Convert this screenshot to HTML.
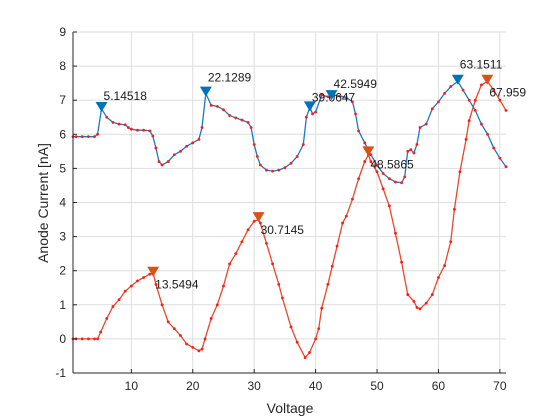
<!DOCTYPE html>
<html><head><meta charset="utf-8"><style>
body{margin:0;background:#fff;}
svg{display:block;font-family:"Liberation Sans",sans-serif;}
</style></head><body>
<svg id="chart" width="560" height="420"></svg>
<script>
const xTicks=[10,20,30,40,50,60,70];
const yTicks=[-1,0,1,2,3,4,5,6,7,8,9];
const blueX=[0.5,1,2,3,4,4.5,5.14,6,7,8,9,9.5,10,11,12,13,13.5,14,14.5,15,16,17,18,19,20,21,21.5,22.13,23,24,25,26,27,28,29,29.5,30,30.5,31,32,33,34,35,36,37,38,38.5,39.06,39.5,40,41,42,42.59,43,44,45,46,46.5,47,48,49,50,51,52,53,54,54.5,55,55.5,56,56.5,57,58,59,60,61,62,63.15,64,65,66,67,68,69,70,71];
const blueY=[5.93,5.93,5.93,5.93,5.93,6.0,6.75,6.5,6.35,6.3,6.28,6.2,6.15,6.12,6.12,6.1,5.95,5.6,5.2,5.1,5.2,5.4,5.5,5.65,5.75,5.85,6.2,7.2,6.85,6.82,6.72,6.55,6.48,6.42,6.35,6.2,5.7,5.35,5.1,4.95,4.92,4.95,5.02,5.15,5.35,5.7,6.5,6.8,6.6,6.65,7.15,7.1,7.15,7.15,7.12,7.08,6.95,6.6,6.1,5.75,5.4,5.1,4.85,4.7,4.6,4.58,4.75,5.5,5.55,5.45,5.7,6.2,6.3,6.75,6.95,7.2,7.4,7.55,7.3,7.0,6.7,6.3,6.0,5.6,5.3,5.05];
const orX=[0.5,1,2,3,4,4.5,5,6,7,8,9,10,11,12,13,13.55,14,15,16,17,18,19,20,21,21.5,22,23,24,25,26,27,28,29,30,30.71,31,32,33,34,34.6,36,37,38.3,39,40,40.5,41,42,42.7,43.5,44.4,45,46,47,48,48.59,49,50,51,52,53,54,55,56,56.5,57,58,59,60,61,62,62.6,63.5,64.5,65,66,67,67.96,69,70,71];
const orY=[0,0,0,0,0,0,0.2,0.6,0.95,1.15,1.4,1.55,1.7,1.8,1.9,1.93,1.6,1.0,0.5,0.3,0.1,-0.15,-0.25,-0.35,-0.3,0.0,0.6,1.0,1.55,2.2,2.5,2.85,3.2,3.45,3.5,3.4,2.8,2.2,1.6,1.2,0.35,-0.1,-0.55,-0.4,0.0,0.3,0.9,1.6,2.13,2.72,3.4,3.6,4.1,4.7,5.2,5.4,5.2,4.9,4.4,3.9,3.1,2.25,1.3,1.1,0.92,0.88,1.05,1.3,1.8,2.15,2.85,3.8,4.9,5.85,6.4,7.0,7.45,7.55,7.3,7.0,6.7];
const bluePeakX=[5.14518,22.1289,39.0647,42.5949,63.1511];
const bluePeakY=[6.8,7.25,6.82,7.15,7.6];
const bluePeakLbl=["5.14518","22.1289","39.0647","42.5949","63.1511"];
const orPeakX=[13.5494,30.7145,48.5865,67.959];
const orPeakY=[1.97,3.57,5.5,7.6];
const orPeakLbl=["13.5494","30.7145","48.5865","67.959"];

const L=73,R=506,T=32,B=373,XMIN=0.5,XMAX=71,YMIN=-1,YMAX=9;
const sx=v=>L+(v-XMIN)/(XMAX-XMIN)*(R-L);
const sy=v=>B-(v-YMIN)/(YMAX-YMIN)*(B-T);
const svg=document.getElementById('chart');
const NS='http://www.w3.org/2000/svg';
function mk(tag,attrs,parent){const e=document.createElementNS(NS,tag);for(const k in attrs)e.setAttribute(k,attrs[k]);(parent||svg).appendChild(e);return e;}

const grid=mk('g',{});


xTicks.forEach(t=>{mk('line',{x1:sx(t),x2:sx(t),y1:T,y2:B,stroke:'#dedede','stroke-width':1},grid);});
yTicks.forEach(t=>{mk('line',{x1:L,x2:R,y1:sy(t),y2:sy(t),stroke:'#dedede','stroke-width':1},grid);});

function series(xs,ys,color,name){
  const g=mk('g',{});
  
  
  const d=xs.map((x,i)=>(i?'L':'M')+sx(x).toFixed(1)+','+sy(ys[i]).toFixed(1)).join('');
  mk('path',{d:d,fill:'none',stroke:color,'stroke-width':1.3},g);
  xs.forEach((x,i)=>{const c=mk('circle',{cx:sx(x),cy:sy(ys[i]),r:1.4,fill:'#ff1a1a'},g);
    
    });
}
series(orX,orY,'#e8482a','orange-series');
series(blueX,blueY,'#1f77c4','blue-series');

function peaks(xs,ys,lbls,color,name,dx,dy){
  xs.forEach((x,i)=>{
    const px=sx(x),py=sy(ys[i]);
    const m=mk('path',{d:`M${px-6},${py-5}L${px+6},${py-5}L${px},${py+5}Z`,fill:color});
    
    
    const t=mk('text',{x:px+dx,y:py+dy[i],'font-size':12,fill:'#1a1a1a'});
    t.textContent=lbls[i];
    
    
  });
}
peaks(bluePeakX,bluePeakY,bluePeakLbl,'#0072bd','blue-peak',2,[-7,-10,-5,-7,-11]);
peaks(orPeakX,orPeakY,orPeakLbl,'#d95319','orange-peak',2,[17,17,17,17,]);

const ax=mk('g',{});


mk('line',{x1:L,x2:L,y1:T,y2:B,stroke:'#262626'},ax);
mk('line',{x1:L,x2:R,y1:B,y2:B,stroke:'#262626'},ax);
xTicks.forEach(t=>{mk('line',{x1:sx(t),x2:sx(t),y1:B,y2:B-4,stroke:'#262626'},ax);
  const tx=mk('text',{x:sx(t),y:B+17,'font-size':12,fill:'#262626','text-anchor':'middle'},ax);tx.textContent=t;
  
  });
yTicks.forEach(t=>{mk('line',{x1:L,x2:L+4,y1:sy(t),y2:sy(t),stroke:'#262626'},ax);
  const tx=mk('text',{x:L-7,y:sy(t)+4,'font-size':12,fill:'#262626','text-anchor':'end'},ax);tx.textContent=t;
  
  });
const xl=mk('text',{x:290,y:413,'font-size':14,fill:'#262626','text-anchor':'middle'});
xl.textContent='Voltage';


const yl=mk('text',{x:0,y:0,'font-size':14,fill:'#262626','text-anchor':'middle',transform:'translate(48,203) rotate(-90)'});
yl.textContent='Anode Current [nA]';


</script>
</body></html>
